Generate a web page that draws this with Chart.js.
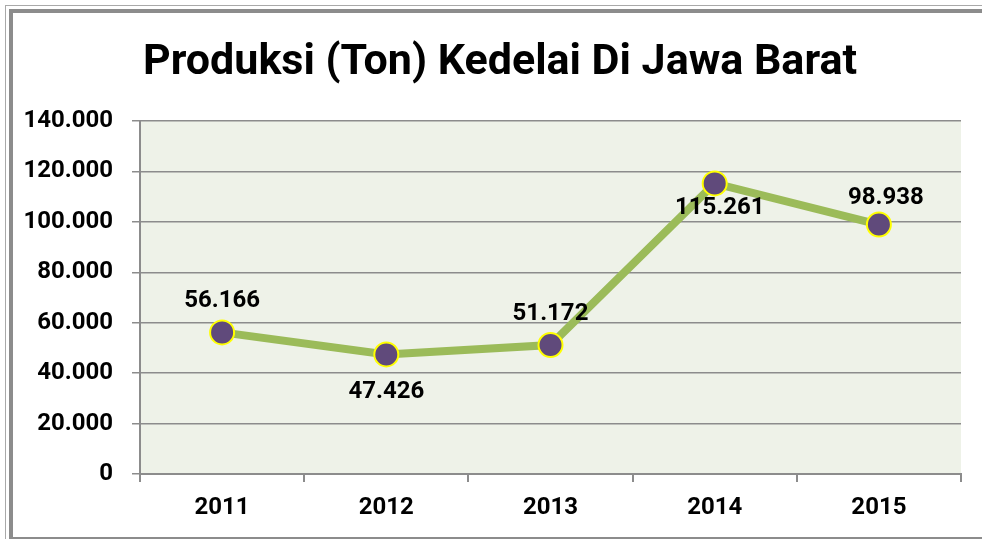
<!DOCTYPE html>
<html>
<head>
<meta charset="utf-8">
<title>Produksi Kedelai Jawa Barat</title>
<script src="https://cdn.jsdelivr.net/npm/chart.js@4.4.1/dist/chart.umd.min.js"></script>
<style>
  html, body { margin: 0; padding: 0; background: #ffffff; overflow: hidden; }
  #bingkai_luar { position: absolute; left: 5px; top: 5px; width: 1100px; height: 600px; border: 1px solid #a9a9a9; }
  #bingkai { position: absolute; left: 9px; top: 9px; width: 1100px; height: 532px; box-sizing: border-box; border: 4px solid #8c8c8c; }
  #wadah { position: absolute; left: 0; top: 0; width: 1000px; height: 539px; }
</style>
</head>
<body>
<div id="bingkai_luar"></div>
<div id="bingkai"></div>
<div id="wadah"><canvas id="grafico_1"></canvas></div>

<script>
// dati del grafico
var tahun = ['2011', '2012', '2013', '2014', '2015'];
var produksi = [56166, 47426, 51172, 115261, 98938];
var judul = 'Produksi (Ton) Kedelai Di Jawa Barat';
var y_min = 0;
var y_max = 140000;
var y_step = 20000;

// formato con il punto come separatore delle migliaia: 56166 -> 56.166
function format_angka(n) {
  return String(Math.round(n)).replace(/\B(?=(\d{3})+(?!\d))/g, '.');
}

// sfondo dell'area del grafico
var sfondo_plot = {
  id: 'sfondo_plot',
  beforeDraw: function(chart) {
    var a = chart.chartArea;
    var ctx = chart.ctx;
    ctx.save();
    ctx.fillStyle = '#eef2e8';
    ctx.fillRect(a.left, a.top, a.right - a.left, a.bottom - a.top);
    ctx.restore();
  }
};

// titolo centrato sulla cornice (non sull'area del grafico)
var titolo = {
  id: 'titolo',
  afterDraw: function(chart) {
    var ctx = chart.ctx;
    ctx.save();
    ctx.font = 'bold 43px Roboto';
    ctx.fillStyle = '#000000';
    ctx.textAlign = 'center';
    ctx.textBaseline = 'middle';
    ctx.fillText(judul, 500, 63);
    ctx.restore();
  }
};

// etichette dei valori sopra / sotto i punti
var posisi_label = [
  { dx: 0, dy: -31 },
  { dx: 0, dy: 38 },
  { dx: 0, dy: -31 },
  { dx: 5, dy: 25 },
  { dx: 7, dy: -27 }
];
var label_nilai = {
  id: 'label_nilai',
  afterDatasetsDraw: function(chart) {
    var ctx = chart.ctx;
    var meta = chart.getDatasetMeta(0);
    ctx.save();
    ctx.font = 'bold 24px Roboto';
    ctx.fillStyle = '#000000';
    ctx.textAlign = 'center';
    ctx.textBaseline = 'middle';
    for (var i = 0; i < meta.data.length; i++) {
      var p = meta.data[i];
      var pos = posisi_label[i];
      ctx.fillText(format_angka(chart.data.datasets[0].data[i]), p.x + pos.dx, p.y + pos.dy);
    }
    ctx.restore();
  }
};

function disegna_grafico(labels, valori) {
  var ctx = document.getElementById('grafico_1');
  var chart = new Chart(ctx, {
    type: 'line',
    data: {
      labels: labels,
      datasets: [{
        label: judul,
        data: valori,
        borderColor: '#9bbb59',
        borderWidth: 8,
        backgroundColor: '#604a7b',
        pointBackgroundColor: '#604a7b',
        pointBorderColor: '#ffff00',
        pointBorderWidth: 2,
        pointRadius: 12,
        pointHoverRadius: 12,
        fill: false,
        tension: 0
      }]
    },
    options: {
      responsive: true,
      maintainAspectRatio: false,
      animation: false,
      events: [],
      layout: { padding: { left: 0, right: 39, top: 121, bottom: 0 } },
      plugins: {
        legend: { display: false },
        tooltip: { enabled: false },
        title: { display: false }
      },
      scales: {
        x: {
          offset: true,
          grid: {
            offset: true,
            drawOnChartArea: false,
            drawTicks: true,
            tickLength: 8,
            color: '#8c8c8c',
            lineWidth: 2
          },
          border: { color: '#8c8c8c', width: 2 },
          ticks: {
            color: '#000000',
            padding: 12,
            font: { family: 'Roboto', size: 24, weight: 'bold' }
          },
          afterFit: function(scale) { scale.height = 65; }
        },
        y: {
          min: y_min,
          max: y_max,
          grid: {
            color: '#8c8c8c',
            lineWidth: 1.5,
            drawTicks: true,
            tickLength: 8
          },
          border: { color: '#8c8c8c', width: 2 },
          ticks: {
            stepSize: y_step,
            color: '#000000',
            padding: 19,
            font: { family: 'Roboto', size: 24, weight: 'bold' },
            callback: function(v) { return format_angka(v); }
          },
          afterFit: function(scale) { scale.width = 140; }
        }
      }
    },
    plugins: [sfondo_plot, label_nilai, titolo]
  });
  return chart;
}

disegna_grafico(tahun, produksi);
</script>
</body>
</html>
